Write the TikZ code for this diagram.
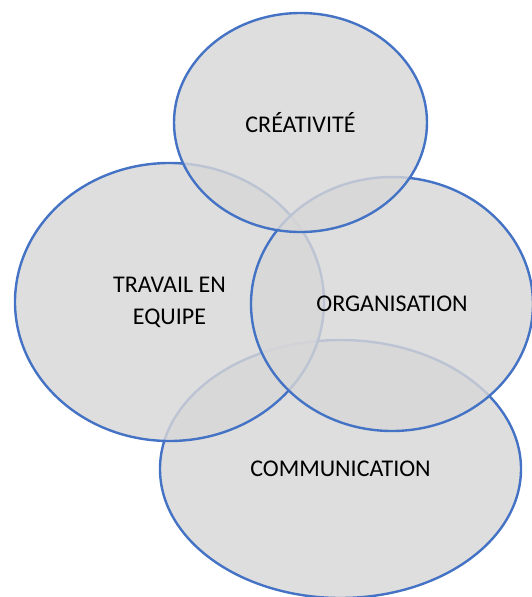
\documentclass[tikz,border=0pt]{standalone}
\usepackage{fontspec}
\setmainfont{Carlito}
\usetikzlibrary{shapes.geometric}
\definecolor{bubbleblue}{RGB}{68,114,196}
\definecolor{bubblegray}{RGB}{215,215,215}
\tikzset{bubble/.style = {ellipse, draw = bubbleblue, line width = 2.4pt,
                          fill = bubblegray, fill opacity = 0.82, text opacity = 1,
                          inner sep = 0, align = center,
                          font = \fontsize{24}{32}\selectfont}}

\begin{document}
\begin{tikzpicture}[x = 1pt, y = -1pt]
    \useasboundingbox (0, 0) rectangle (532, 597);
    \node [bubble, minimum width = 361pt, minimum height = 258pt] (comm) at (340.5, 469) {COMMUNICATION};
    \node [bubble, minimum width = 309pt, minimum height = 278pt] (team) at (169.5, 302) {TRAVAIL EN\\EQUIPE};
    \node [bubble, minimum width = 282pt, minimum height = 254pt] (orga) at (392, 304) {ORGANISATION};
    \node [bubble, minimum width = 253pt, minimum height = 219pt] (crea) at (300.5, 122.5) {CRÉATIVITÉ};
\end{tikzpicture}
\end{document}
